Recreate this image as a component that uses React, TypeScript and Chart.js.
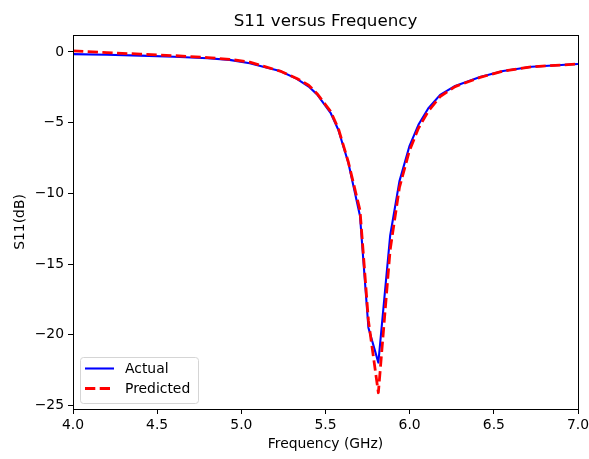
import React, { useEffect, useRef } from "react";
import { Chart, registerables } from "chart.js";

Chart.register(...registerables);

const chartTitle = "S11 versus Frequency";
const xLabel = "Frequency (GHz)";
const yLabel = "S11(dB)";

const freqGHz = [
  4.0, 4.2, 4.4, 4.6, 4.8, 4.93, 5.05, 5.13, 5.23, 5.33, 5.4, 5.45, 5.53, 5.576,
  5.636, 5.705, 5.755, 5.814, 5.884, 5.939, 5.998, 6.052, 6.11, 6.181, 6.27,
  6.418, 6.555, 6.725, 7.0,
];
const actualDb = [
  -0.15, -0.2, -0.26, -0.34, -0.45, -0.56, -0.8, -1.04, -1.35, -1.9, -2.45,
  -3.0, -4.3, -5.5, -7.85, -11.6, -19.5, -21.97, -13.0, -9.15, -6.68, -5.15,
  -4.0, -3.03, -2.4, -1.77, -1.34, -1.04, -0.85,
];
const predictedDb = [
  0.08, -0.05, -0.15, -0.26, -0.4, -0.52, -0.72, -1.0, -1.35, -1.88, -2.35,
  -2.95, -4.2, -5.4, -7.8, -11.2, -19.0, -24.1, -14.0, -9.6, -7.0, -5.4, -4.2,
  -3.15, -2.45, -1.8, -1.35, -1.05, -0.85,
];
const xTicks = [4.0, 4.5, 5.0, 5.5, 6.0, 6.5, 7.0];
const yTicks = [-25, -20, -15, -10, -5, 0];

const FONT = '"DejaVu Sans", "Liberation Sans", sans-serif';

const framePlugin = {
  id: "mplFrame",
  afterDatasetsDraw(chart: any) {
    const { ctx, chartArea } = chart;
    ctx.save();
    ctx.strokeStyle = "#000";
    ctx.lineWidth = 1;
    ctx.strokeRect(
      Math.round(chartArea.left) + 0.5,
      Math.round(chartArea.top) + 0.5,
      Math.round(chartArea.right - chartArea.left),
      Math.round(chartArea.bottom - chartArea.top)
    );
    ctx.restore();
  },
};

const titlePlugin = {
  id: "mplTitle",
  afterDraw(chart: any) {
    const { ctx, chartArea } = chart;
    ctx.save();
    ctx.fillStyle = "#000";
    ctx.font = `16.7px ${FONT}`;
    ctx.textAlign = "center";
    ctx.textBaseline = "alphabetic";
    ctx.fillText(chartTitle, (chartArea.left + chartArea.right) / 2, chartArea.top - 9.5);
    ctx.restore();
  },
};

const legendPlugin = {
  id: "mplLegend",
  afterDatasetsDraw(chart: any) {
    const { ctx, chartArea } = chart;
    const w = 118;
    const h = 46;
    const x = Math.round(chartArea.left) + 7;
    const y = Math.round(chartArea.bottom) - 6 - h;
    ctx.save();
    ctx.beginPath();
    ctx.roundRect(x + 0.5, y + 0.5, w, h, 3);
    ctx.fillStyle = "rgba(255,255,255,0.8)";
    ctx.fill();
    ctx.strokeStyle = "#d5d5d5";
    ctx.lineWidth = 1;
    ctx.stroke();
    chart.data.datasets.forEach((ds: any, i: number) => {
      const ly = y + 11.5 + i * 20;
      ctx.beginPath();
      ctx.moveTo(x + 5, ly);
      ctx.lineTo(x + 34, ly);
      ctx.strokeStyle = ds.borderColor;
      ctx.lineWidth = ds.borderWidth;
      ctx.lineCap = "butt";
      ctx.setLineDash(ds.borderDash || []);
      ctx.stroke();
      ctx.setLineDash([]);
      ctx.fillStyle = "#000";
      ctx.font = `13.9px ${FONT}`;
      ctx.textBaseline = "middle";
      ctx.textAlign = "left";
      ctx.fillText(ds.label, x + 45, ly + 1);
    });
    ctx.restore();
  },
};

const fmtNum = (v: number, digits: number) => {
  const s = Math.abs(v).toFixed(digits);
  return v < 0 ? "\u2212" + s : s;
};

export default function App() {
  const ref = useRef<HTMLCanvasElement>(null);

  useEffect(() => {
    document.body.style.margin = "0";
    const canvas = ref.current;
    if (!canvas) return;
    const chart = new Chart(canvas, {
      type: "line",
      data: {
        datasets: [
          {
            label: "Actual",
            data: freqGHz.map((f, i) => ({ x: f, y: actualDb[i] })),
            borderColor: "#0000ff",
            borderWidth: 2.08,
            borderJoinStyle: "round",
            borderCapStyle: "butt",
            pointRadius: 0,
            tension: 0,
            fill: false,
            order: 1,
          },
          {
            label: "Predicted",
            data: freqGHz.map((f, i) => ({ x: f, y: predictedDb[i] })),
            borderColor: "#ff0000",
            borderWidth: 2.78,
            borderDash: [10.3, 4.4],
            borderJoinStyle: "round",
            borderCapStyle: "butt",
            pointRadius: 0,
            tension: 0,
            fill: false,
            order: 0,
          },
        ],
      },
      options: {
        responsive: false,
        animation: false,
        events: [],
        layout: { padding: { left: 0, right: 11, top: 35, bottom: 0 } },
        plugins: {
          legend: { display: false },
          tooltip: { enabled: false },
          title: { display: false },
        },
        scales: {
          x: {
            type: "linear",
            min: 4,
            max: 7,
            afterBuildTicks: (scale: any) => {
              scale.ticks = xTicks.map((v) => ({ value: v }));
            },
            afterFit: (scale: any) => {
              scale.height = 50;
              scale.paddingLeft = 0;
              scale.paddingRight = 0;
            },
            ticks: {
              color: "#000",
              font: { family: FONT, size: 13.9 },
              padding: 3,
              maxRotation: 0,
              autoSkip: false,
              callback: (v: any) => fmtNum(Number(v), 1),
            },
            grid: {
              display: true,
              drawOnChartArea: false,
              drawTicks: true,
              tickLength: 5,
              color: "#000",
            },
            border: { display: true, color: "#000", width: 1 },
            title: {
              display: true,
              text: xLabel,
              color: "#000",
              font: { family: FONT, size: 13.9 },
              padding: { top: 0, bottom: 6 },
            },
          },
          y: {
            type: "linear",
            min: -25.25,
            max: 1.2,
            afterBuildTicks: (scale: any) => {
              scale.ticks = yTicks.map((v) => ({ value: v }));
            },
            afterFit: (scale: any) => {
              scale.width = 73;
              scale.paddingTop = 0;
              scale.paddingBottom = 0;
            },
            ticks: {
              color: "#000",
              font: { family: FONT, size: 13.9 },
              padding: 4,
              autoSkip: false,
              callback: (v: any) => fmtNum(Number(v), 0),
            },
            grid: {
              display: true,
              drawOnChartArea: false,
              drawTicks: true,
              tickLength: 5,
              color: "#000",
            },
            border: { display: true, color: "#000", width: 1 },
            title: {
              display: true,
              text: yLabel,
              color: "#000",
              font: { family: FONT, size: 13.9 },
              padding: { top: 12, bottom: 0 },
            },
          },
        },
      },
      plugins: [framePlugin, legendPlugin, titlePlugin],
    } as any);
    return () => chart.destroy();
  }, []);

  return (
    <canvas
      ref={ref}
      width={589}
      height={459}
      style={{ display: "block", width: 589, height: 459 }}
    />
  );
}
